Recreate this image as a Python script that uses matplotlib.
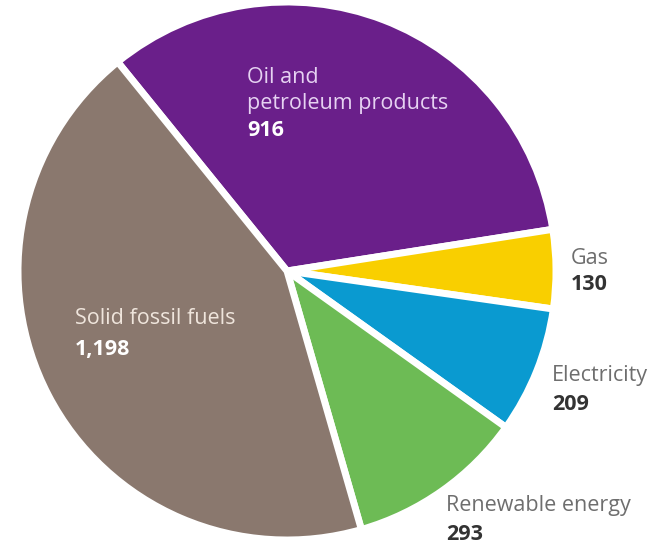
import numpy as np
import matplotlib.pyplot as plt

plt.rcParams['font.family'] = ['Open Sans', 'DejaVu Sans']

# energy consumption by fuel
labels = ["Oil and\npetroleum products", "Gas", "Electricity", "Renewable energy", "Solid fossil fuels"]
values = [916, 130, 209, 293, 1198]
value_text = ["916", "130", "209", "293", "1,198"]
colors = ["#6a1f8a", "#f9cf00", "#0a9ad0", "#6dbb55", "#8a786e"]

W, H = 658, 546
fig = plt.figure(figsize=(W / 100, H / 100), dpi=100)
ax = fig.add_axes([0, 0, 1, 1])

# pie centre and radius in pixels
cx, cy, r = 287, 271, 269
ax.pie(values, colors=colors, startangle=129, counterclock=False,
       radius=1.0, wedgeprops=dict(edgecolor="white", linewidth=5))
ax.set_xlim(-cx / r, (W - cx) / r)
ax.set_ylim(-(H - cy) / r, cy / r)
ax.set_aspect("equal")
ax.axis("off")


def put(px, py, s, **kw):
    fig.text(px / W, 1 - py / H, s, va="center", ha="left", **kw)


fs = 15.5
# inside labels
put(247, 78, "Oil and", fontsize=fs, color="#e6d2f2")
put(247, 104, "petroleum products", fontsize=fs, color="#e6d2f2")
put(247, 131, value_text[0], fontsize=fs, color="white", fontweight="bold")
put(75, 318, "Solid fossil fuels", fontsize=fs, color="#efe5dc")
put(75, 350, value_text[4], fontsize=fs, color="white", fontweight="bold")

# outside labels
put(571, 258, labels[1], fontsize=fs, color="#6e6e6e")
put(571, 285, value_text[1], fontsize=fs, color="#333333", fontweight="bold")
put(552, 376, labels[2], fontsize=fs, color="#6e6e6e")
put(552, 405, value_text[2], fontsize=fs, color="#333333", fontweight="bold")
put(446, 505, labels[3], fontsize=fs, color="#6e6e6e")
put(446, 534, value_text[3], fontsize=fs, color="#333333", fontweight="bold")

fig.savefig("out.png", dpi=100, facecolor="white")
